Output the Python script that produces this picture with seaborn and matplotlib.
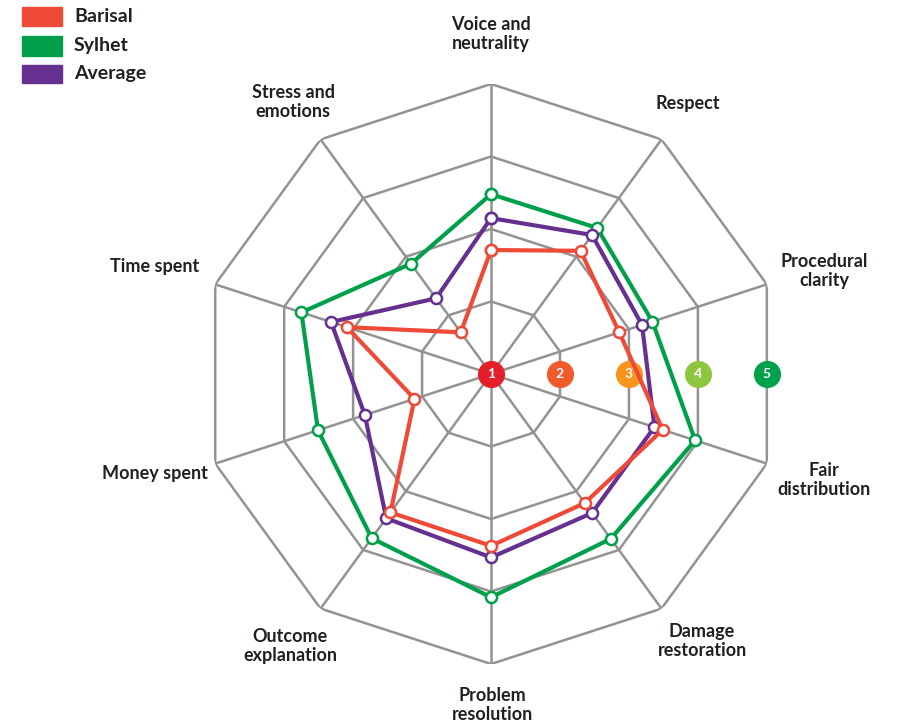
import numpy as np
import pandas as pd
import matplotlib
matplotlib.use('Agg')
import matplotlib.pyplot as plt
from matplotlib.patches import Rectangle
import seaborn as sns

# Data
categories = ['Voice and\nneutrality', 'Respect', 'Procedural\nclarity', 'Fair\ndistribution',
              'Damage\nrestoration', 'Problem\nresolution', 'Outcome\nexplanation',
              'Money spent', 'Time spent', 'Stress and\nemotions']
barisal = [2.71, 3.10, 2.86, 3.49, 3.20, 3.37, 3.36, 2.11, 3.09, 1.71]
sylhet = [3.48, 3.49, 3.34, 3.96, 3.81, 4.08, 3.80, 3.51, 3.75, 2.88]
average = [3.15, 3.37, 3.19, 3.37, 3.37, 3.53, 3.46, 2.83, 3.32, 2.29]
series_names = ['Barisal', 'Sylhet', 'Average']
scale_levels = [1, 2, 3, 4, 5]

colors = {'Barisal': '#EF4A37', 'Sylhet': '#00A04B', 'Average': '#65308F'}
level_colors = ['#E41E2B', '#F15A2B', '#F7941D', '#8DC63F', '#00A14B']
grid_color = '#939393'
text_color = '#231F20'

sns.set_theme(style='white')
plt.rcParams['font.family'] = ['Lato', 'DejaVu Sans']

n = len(categories)
theta = np.linspace(0, 2 * np.pi, n, endpoint=False)
theta_closed = np.append(theta, 2 * np.pi)

fig = plt.figure(figsize=(8.99, 7.26), dpi=100)
ax = fig.add_axes([0.2236, 0.0854, 0.6452, 0.7989], projection='polar')
ax.set_theta_offset(np.pi / 2)
ax.set_theta_direction(-1)
ax.set_ylim(1, 5)
ax.grid(False)
ax.set_xticks([])
ax.set_yticks([])
ax.spines['polar'].set_visible(False)
ax.patch.set_alpha(0)

# decagon grid
for lvl in scale_levels[1:]:
    ax.plot(theta_closed, [lvl] * (n + 1), color=grid_color, lw=1.8, zorder=1)
for t in theta:
    ax.plot([t, t], [1, 5], color=grid_color, lw=1.8, zorder=1)

# scale markers on the horizontal
cos18 = np.cos(np.pi / 10)
for lvl, c in zip(scale_levels, level_colors):
    r = 1 + (lvl - 1) * cos18
    ax.plot([np.pi / 2], [r], marker='o', markersize=18.5, color=c, zorder=3, clip_on=False)
    ax.text(np.pi / 2, r, str(lvl), color='white', fontsize=10, fontweight='bold',
            ha='center', va='center', zorder=4)

# data lines
frames = []
for name, vals in zip(series_names, [barisal, sylhet, average]):
    frames.append(pd.DataFrame({'theta': theta_closed,
                                'value': list(vals) + [vals[0]],
                                'region': name}))
df = pd.concat(frames, ignore_index=True)

for name in ['Sylhet', 'Average', 'Barisal']:
    sub = df[df['region'] == name]
    sns.lineplot(data=sub, x='theta', y='value', ax=ax, sort=False, color=colors[name],
                 lw=3, marker='o', markersize=8, markerfacecolor='white',
                 markeredgecolor=colors[name], markeredgewidth=1.8, zorder=5,
                 legend=False, clip_on=False)
ax.set_xlabel('')
ax.set_ylabel('')

# category labels, offsets (px) from the chart centre
label_offsets = [(0, 340), (197, 270), (333, 103), (333, -106), (211, -267),
                 (1, -331), (-201, -272), (-336, -100), (-336, 107), (-198, 272)]
for lab, (dx, dy) in zip(categories, label_offsets):
    ax.annotate(lab, xy=(0, 1), xycoords='data', xytext=(dx * 0.72, dy * 0.72),
                textcoords='offset points', ha='center', va='center', fontsize=13,
                fontweight='bold', color=text_color, linespacing=1.2,
                annotation_clip=False)

# legend
W, H = 899, 726
for name, y0, y1 in [('Barisal', 7, 26), ('Sylhet', 36, 56), ('Average', 65, 83)]:
    fig.patches.append(Rectangle((22 / W, 1 - y1 / H), 40 / W, (y1 - y0) / H,
                                 transform=fig.transFigure, color=colors[name]))
    fig.text(74 / W, 1 - (y0 + y1) / 2 / H, name, fontsize=14, fontweight='bold',
             color=text_color, va='center', ha='left')

fig.savefig('out.png', dpi=100)
